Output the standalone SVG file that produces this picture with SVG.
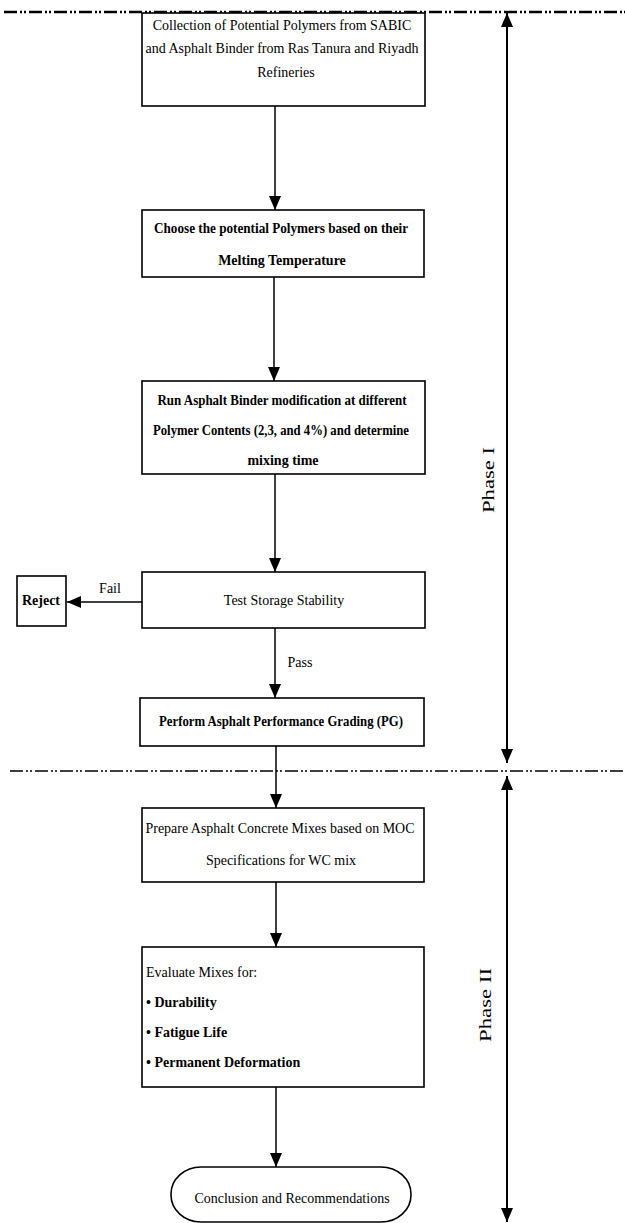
<svg xmlns="http://www.w3.org/2000/svg" width="625" height="1223" viewBox="0 0 625 1223">
<style>
.box{fill:#fff;stroke:#000;stroke-width:1.6}
.t{font-family:"Liberation Serif","Times New Roman",serif;font-size:14px;fill:#000;text-anchor:middle}
.b{font-weight:bold}
.l{text-anchor:start}
.c{stroke:#000;stroke-width:1.5;fill:none}
.ph{stroke:#000;stroke-width:2;fill:none}
.dash{stroke:#000;fill:none;stroke-dasharray:13 3 2 2 2 3}
.pl{font-size:17px}
</style>
<defs>
<marker id="ah" viewBox="0 0 14 12" refX="14" refY="6" markerWidth="14" markerHeight="12" markerUnits="userSpaceOnUse" orient="auto-start-reverse">
<path d="M0,0 L14,6 L0,12 Z" fill="#000"/>
</marker>
</defs>
<rect width="625" height="1223" fill="#fff"/>
<g id="separators">
<line class="dash" x1="4" y1="12" x2="625" y2="12" stroke-width="2.5"/>
<line class="dash" x1="10" y1="771" x2="625" y2="771" stroke-width="1.5"/>
</g>
<g id="connectors">
<line class="c" x1="275" y1="106" x2="275" y2="210" marker-end="url(#ah)"/>
<line class="c" x1="274" y1="277" x2="274" y2="381" marker-end="url(#ah)"/>
<line class="c" x1="275" y1="474" x2="275" y2="572" marker-end="url(#ah)"/>
<line class="c" x1="142" y1="602" x2="67" y2="602" marker-end="url(#ah)"/>
<line class="c" x1="275" y1="628" x2="275" y2="698" marker-end="url(#ah)"/>
<line class="c" x1="276" y1="746" x2="276" y2="808" marker-end="url(#ah)"/>
<line class="c" x1="276" y1="882" x2="276" y2="947" marker-end="url(#ah)"/>
<line class="c" x1="276" y1="1087" x2="276" y2="1167" marker-end="url(#ah)"/>
<text class="t" x="110" y="593">Fail</text>
<text class="t" x="300" y="667">Pass</text>
</g>
<g id="phase1">
<line class="ph" x1="507" y1="13" x2="507" y2="763" marker-start="url(#ah)" marker-end="url(#ah)"/>
<text class="t pl" transform="translate(494,480) rotate(-90)" textLength="66" lengthAdjust="spacingAndGlyphs">Phase I</text>
</g>
<g id="phase2">
<line class="ph" x1="507" y1="776" x2="507" y2="1222" marker-start="url(#ah)" marker-end="url(#ah)"/>
<text class="t pl" transform="translate(491,1005) rotate(-90)" textLength="74" lengthAdjust="spacingAndGlyphs">Phase II</text>
</g>
<g id="n1">
<rect class="box" x="142" y="13" width="283" height="93"/>
<text class="t" x="282" y="30">Collection of Potential Polymers from SABIC</text>
<text class="t" x="282" y="53">and Asphalt Binder from Ras Tanura and Riyadh</text>
<text class="t" x="286" y="77">Refineries</text>
</g>
<g id="n2">
<rect class="box" x="142" y="210" width="282" height="67"/>
<text class="t b" x="281" y="233" textLength="254" lengthAdjust="spacingAndGlyphs">Choose the potential Polymers based on their</text>
<text class="t b" x="282" y="265">Melting Temperature</text>
</g>
<g id="n3">
<rect class="box" x="142" y="381" width="283" height="93"/>
<text class="t b" x="282" y="405" textLength="249" lengthAdjust="spacingAndGlyphs">Run Asphalt Binder modification at different</text>
<text class="t b" x="281" y="435" textLength="256" lengthAdjust="spacingAndGlyphs">Polymer Contents (2,3, and 4%) and determine</text>
<text class="t b" x="283" y="465">mixing time</text>
</g>
<g id="n4">
<rect class="box" x="142" y="572" width="283" height="56"/>
<text class="t" x="284" y="605">Test Storage Stability</text>
</g>
<g id="reject">
<rect class="box" x="17" y="576" width="49" height="50"/>
<text class="t b" x="41" y="605">Reject</text>
</g>
<g id="n5">
<rect class="box" x="140" y="698" width="284" height="48"/>
<text class="t b" x="281" y="726" textLength="244" lengthAdjust="spacingAndGlyphs">Perform Asphalt Performance Grading (PG)</text>
</g>
<g id="n6">
<rect class="box" x="142" y="808" width="282" height="74"/>
<text class="t" x="280" y="833" textLength="269" lengthAdjust="spacingAndGlyphs">Prepare Asphalt Concrete Mixes based on MOC</text>
<text class="t" x="281" y="865">Specifications for WC mix</text>
</g>
<g id="n7">
<rect class="box" x="142" y="947" width="282" height="140"/>
<text class="t l" x="146" y="977">Evaluate Mixes for:</text>
<text class="t l b" x="146" y="1007">• Durability</text>
<text class="t l b" x="146" y="1037">• Fatigue Life</text>
<text class="t l b" x="146" y="1067">• Permanent Deformation</text>
</g>
<g id="n8">
<rect class="box" x="171" y="1167" width="240" height="55" rx="30" ry="27"/>
<text class="t" x="292" y="1203">Conclusion and Recommendations</text>
</g>
</svg>
